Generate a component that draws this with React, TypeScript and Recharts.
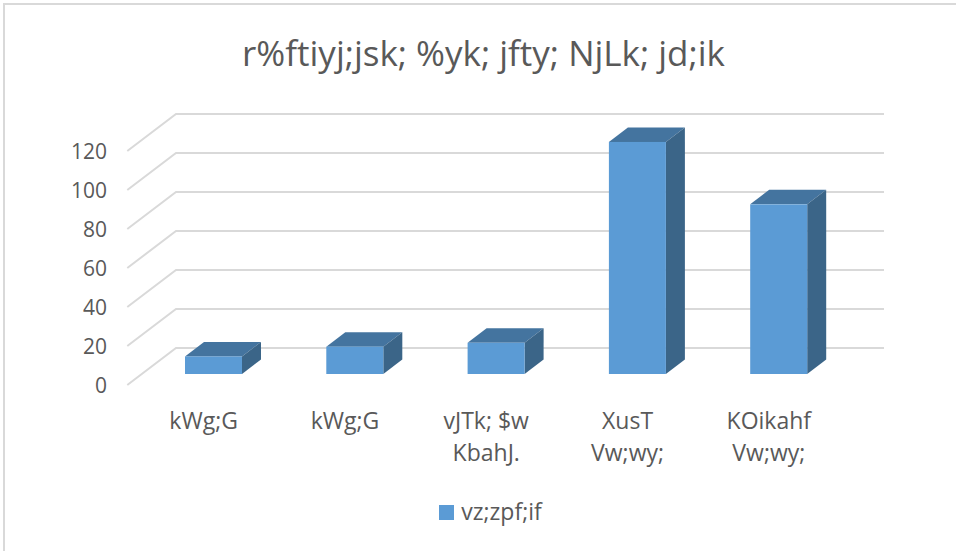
import React from 'react';
import { BarChart, Bar, XAxis, YAxis, CartesianGrid, Legend } from 'recharts';

const categories = ['kWg;G', 'kWg;G', 'vJTk; $w|KbahJ.', 'XusT|Vw;wy;', 'KOikahf|Vw;wy;'];
const seriesValues = [9, 14, 16, 119, 87];
const yTicks = [0, 20, 40, 60, 80, 100, 120];
const seriesName = 'vz;zpf;if';
const titleText = 'r%ftiyj;jsk; %yk; jfty; NjLk; jd;ik';

const tableData = categories.map((c, i) => ({ idx: i, label: c, value: seriesValues[i] }));

const FONT = '"Open Sans", sans-serif';
const TEXT = '#595959';
const GRID = '#D9D9D9';
const DX = 19;
const DY = 14.5;

const Bar3D = (props: any) => {
  const { x, y, width, height } = props;
  const r = x + width;
  const b = y + height;
  return (
    <g>
      <polygon points={`${x},${y} ${x + DX},${y - DY} ${r + DX},${y - DY} ${r},${y}`} fill="#44749F" />
      <polygon points={`${r},${y} ${r + DX},${y - DY} ${r + DX},${b - DY} ${r},${b}`} fill="#3B6588" />
      <rect x={x} y={y} width={width} height={height} fill="#5B9BD5" />
    </g>
  );
};

const GridLine3D = (props: any) => {
  const { x1, x2, y1, index } = props;
  const fx = x1 - 15.7;
  const fy = y1 + 11;
  const bx = x1 + 33;
  const by = y1 - 26;
  const ex = x2 + 34.5;
  return <polyline key={index} points={`${fx},${fy} ${bx},${by} ${ex},${by}`} fill="none" stroke={GRID} strokeWidth={2} />;
};

const YTick = (props: any) => {
  const { y, payload } = props;
  return (
    <text x={107} y={y + 11} dominantBaseline="central" textAnchor="end" fontFamily={FONT} fontSize={21} fill={TEXT}>
      {payload.value}
    </text>
  );
};

const XTick = (props: any) => {
  const { x, payload } = props;
  const lines = categories[payload.value].split('|');
  return (
    <text textAnchor="middle" fontFamily={FONT} fontSize={23} fill={TEXT}>
      {lines.map((l: string, i: number) => (
        <tspan key={i} x={x - 10} y={429 + i * 32}>{l}</tspan>
      ))}
    </text>
  );
};

export default function App() {
  return (
    <div style={{ position: 'absolute', left: 0, top: 0, width: 956, height: 551, overflow: 'hidden', background: '#fff' }}>
      <div style={{ position: 'absolute', left: 3, top: 3, width: 953, height: 548, borderTop: `2px solid ${GRID}`, borderLeft: `2px solid ${GRID}`, boxSizing: 'border-box' }} />
      <div style={{ position: 'absolute', left: 0, top: 29, width: 967, textAlign: 'center', fontFamily: FONT, fontSize: 35, color: TEXT, whiteSpace: 'nowrap' }}>
        {titleText}
      </div>
      <div style={{ position: 'absolute', left: 0, top: 0 }}>
        <BarChart width={956} height={551} data={tableData} margin={{ top: 140, right: 106.5, bottom: 95, left: 43 }}>
          <CartesianGrid vertical={false} horizontal={GridLine3D as any} />
          <XAxis dataKey="idx" type="category" axisLine={false} tickLine={false} tick={XTick as any} height={50} interval={0} />
          <YAxis type="number" domain={[0, 120]} ticks={yTicks} width={100} axisLine={false} tickLine={false} tick={YTick as any} />
          <Legend
            iconType="square"
            iconSize={15}
            formatter={(v: string) => <span style={{ color: TEXT, fontFamily: FONT, fontSize: 23, position: 'relative', top: 4, marginLeft: 3 }}>{v}</span>}
            wrapperStyle={{ position: 'absolute', top: 491, left: 0, width: 991, bottom: 'auto' }}
          />
          <Bar dataKey="value" name={seriesName} fill="#5B9BD5" barSize={57} shape={Bar3D as any} isAnimationActive={false} />
        </BarChart>
      </div>
    </div>
  );
}
